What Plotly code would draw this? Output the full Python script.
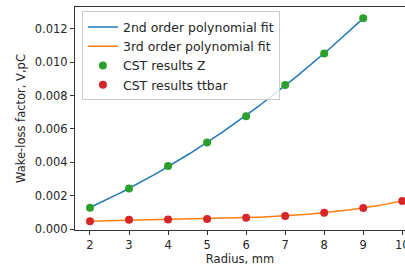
import numpy as np
import plotly.graph_objects as go

radius_z = [2, 3, 4, 5, 6, 7, 8, 9]
wake_z = [0.00128, 0.00242, 0.00378, 0.00518, 0.00676, 0.00862, 0.01052, 0.01262]

radius_tt = [2, 3, 4, 5, 6, 7, 8, 9, 10]
wake_tt = [0.00046, 0.00055, 0.00057, 0.00060, 0.00068, 0.00078, 0.00098, 0.00126, 0.00168]

x_ticks = [2, 3, 4, 5, 6, 7, 8, 9, 10]

# polynomial fits derived from the data points
c2 = np.polyfit(radius_z, wake_z, 2)
c3 = np.polyfit(radius_tt, wake_tt, 3)
xf2 = np.linspace(min(radius_z), max(radius_z), 100)
xf3 = np.linspace(min(radius_tt), max(radius_tt), 100)

FONT = "DejaVu Sans"
TXT = "#262626"

fig = go.Figure()
fig.add_trace(go.Scatter(x=xf2, y=np.polyval(c2, xf2), mode="lines",
                         line=dict(color="#1f77b4", width=1.5),
                         name="2nd order polynomial fit"))
fig.add_trace(go.Scatter(x=xf3, y=np.polyval(c3, xf3), mode="lines",
                         line=dict(color="#ff7f0e", width=1.5),
                         name="3rd order polynomial fit"))
fig.add_trace(go.Scatter(x=radius_z, y=wake_z, mode="markers",
                         marker=dict(color="#2ca02c", size=8),
                         name="CST results Z"))
fig.add_trace(go.Scatter(x=radius_tt, y=wake_tt, mode="markers",
                         marker=dict(color="#d62728", size=8),
                         name="CST results ttbar"))

fig.update_layout(
    width=405, height=266,
    margin=dict(l=75, r=0, t=7, b=36, autoexpand=False),
    paper_bgcolor="white", plot_bgcolor="white",
    font=dict(family=FONT, size=11.5, color=TXT),
    legend=dict(x=0.021, y=0.98, xanchor="left", yanchor="top",
                bgcolor="rgba(255,255,255,0.8)", bordercolor="#cccccc",
                borderwidth=1, font=dict(size=12.5, color=TXT),
                itemwidth=30, tracegroupgap=0),
    showlegend=True,
)
fig.update_xaxes(range=[1.616, 10.07], tickvals=x_ticks,
                 ticktext=[str(v) for v in x_ticks],
                 showgrid=False, zeroline=False, automargin=False,
                 ticklabeloverflow="allow",
                 showline=True, linecolor="#333333", linewidth=1, mirror=True,
                 ticks="outside", ticklen=4, tickcolor="#333333",
                 title=dict(text="Radius, mm", standoff=2, font=dict(size=11.5)))
fig.update_yaxes(range=[-0.00006, 0.0133], dtick=0.002, tick0=0,
                 tickformat=".3f",
                 showgrid=False, zeroline=False, automargin=False,
                 showline=True, linecolor="#333333", linewidth=1, mirror=False,
                 ticks="outside", ticklen=4, tickcolor="#333333",
                 title=dict(text="Wake-loss factor, V,pC", standoff=6, font=dict(size=11.5)))

fig.write_html("out.html", config={"displayModeBar": False},
               post_script="document.body.style.margin='0';document.body.style.overflow='hidden';")
